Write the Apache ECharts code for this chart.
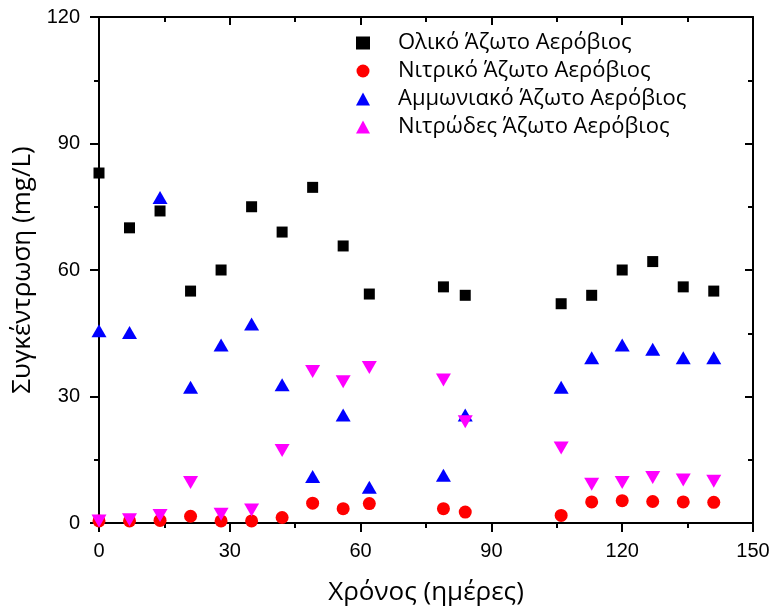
<!DOCTYPE html>
<html>
<head>
<meta charset="utf-8">
<script src="https://cdn.jsdelivr.net/npm/echarts@6/dist/echarts.min.js"></script>
<style>
  html, body { margin: 0; padding: 0; background: #fff; }
  #chart { width: 774px; height: 608px; }
</style>
</head>
<body>
<div id="chart"></div>
<script>
// Sampling days
const days = [0, 7, 14, 21, 28, 35, 42, 49, 56, 62, 79, 84, 106, 113, 120, 127, 134, 141];

// Concentrations (mg/L) per series
const totalN   = [83, 70, 74, 55, 60, 75, 69, 79.6, 65.7, 54.3, 56, 54, 52, 54, 60, 62, 56, 55];
const nitrateN = [0.5, 0.5, 0.6, 1.6, 0.5, 0.5, 1.3, 4.7, 3.4, 4.6, 3.4, 2.6, 1.8, 5.0, 5.3, 5.1, 5.0, 4.9];
const ammoniaN = [45.6, 45.2, 77.2, 32.2, 42.2, 47.2, 32.8, 11, 25.6, 8.5, 11.3, 25.6, 32.2, 39.2, 42.2, 41.2, 39.2, 39.2];
const nitriteN = [0.5, 0.8, 1.8, 9.6, 2.1, 3.1, 17.2, 35.9, 33.5, 36.9, 33.9, 24, 17.8, 9.2, 9.6, 10.8, 10.2, 9.9];

const seriesNames = [
  'Ολικό Άζωτο Αερόβιος',
  'Νιτρικό Άζωτο Αερόβιος',
  'Αμμωνιακό Άζωτο Αερόβιος',
  'Νιτρώδες Άζωτο Αερόβιος'
];

// Axis ranges and tick steps
const xMin = 0, xMax = 150, xStep = 30;
const yMin = 0, yMax = 120, yStep = 30;

const NUM_FONT = '"Liberation Sans", Arial, sans-serif';
const TEXT_FONT = '"Open Sans", "DejaVu Sans", sans-serif';

const pairs = vals => days.map((d, i) => [d, vals[i]]);

const chart = echarts.init(document.getElementById('chart'), null, { renderer: 'canvas' });

const axisLineStyle = { color: '#000', width: 2 };
const tickStyle = { color: '#000', width: 2 };

const baseX = {
  type: 'value', min: xMin, max: xMax, interval: xStep,
  splitLine: { show: false },
  axisLine: { show: true, lineStyle: axisLineStyle, onZero: false },
  minorTick: { show: true, splitNumber: 2, length: 5, lineStyle: tickStyle },
  minorSplitLine: { show: false }
};
const baseY = {
  type: 'value', min: yMin, max: yMax, interval: yStep,
  splitLine: { show: false },
  axisLine: { show: true, lineStyle: axisLineStyle, onZero: false },
  minorTick: { show: true, splitNumber: 2, length: 5, lineStyle: tickStyle },
  minorSplitLine: { show: false }
};

chart.setOption({
  backgroundColor: '#fff',
  animation: false,
  grid: { left: 99, top: 17, width: 654, height: 506, containLabel: false, outerBoundsMode: 'none' },
  legend: {
    orient: 'vertical',
    left: 351, top: 27,
    itemWidth: 14, itemHeight: 13,
    itemGap: 6,
    textStyle: { fontFamily: TEXT_FONT, fontSize: 22, color: '#000', padding: [0, 0, 0, 23] },
    data: seriesNames
  },
  xAxis: [
    Object.assign({}, baseX, {
      position: 'bottom',
      name: 'Χρόνος (ημέρες)',
      nameLocation: 'middle', nameGap: 57,
      nameTextStyle: { fontFamily: TEXT_FONT, fontSize: 26, color: '#000' },
      axisTick: { show: true, inside: false, length: 9, lineStyle: tickStyle },
      axisLabel: { show: true, margin: 18, fontFamily: NUM_FONT, fontSize: 20, color: '#000' }
    }),
    Object.assign({}, baseX, {
      position: 'top',
      axisTick: { show: true, inside: true, length: 8, lineStyle: tickStyle },
      axisLabel: { show: false }
    })
  ],
  yAxis: [
    Object.assign({}, baseY, {
      position: 'left',
      name: 'Συγκέντρωση (mg/L)',
      nameLocation: 'middle', nameGap: 61, nameRotate: 90,
      nameTextStyle: { fontFamily: TEXT_FONT, fontSize: 26, color: '#000' },
      axisTick: { show: true, inside: false, length: 9, lineStyle: tickStyle },
      axisLabel: { show: true, margin: 19, fontFamily: NUM_FONT, fontSize: 20, color: '#000' }
    }),
    Object.assign({}, baseY, {
      position: 'right',
      axisTick: { show: true, inside: true, length: 8, lineStyle: tickStyle },
      axisLabel: { show: false }
    })
  ],
  series: [
    {
      name: seriesNames[0], type: 'scatter', data: pairs(totalN),
      symbol: 'rect', symbolSize: 11,
      itemStyle: { color: '#000000', opacity: 1 }
    },
    {
      name: seriesNames[1], type: 'scatter', data: pairs(nitrateN),
      symbol: 'circle', symbolSize: 13,
      itemStyle: { color: '#ff0000', opacity: 1 }
    },
    {
      name: seriesNames[2], type: 'scatter', data: pairs(ammoniaN),
      symbol: 'triangle', symbolSize: [15, 13],
      itemStyle: { color: '#0000ff', opacity: 1 }
    },
    {
      name: seriesNames[3], type: 'scatter', data: pairs(nitriteN),
      symbol: 'triangle', symbolSize: [15, 13], symbolRotate: 180,
      itemStyle: { color: '#ff00ff', opacity: 1 }
    }
  ]
});
</script>
</body>
</html>
